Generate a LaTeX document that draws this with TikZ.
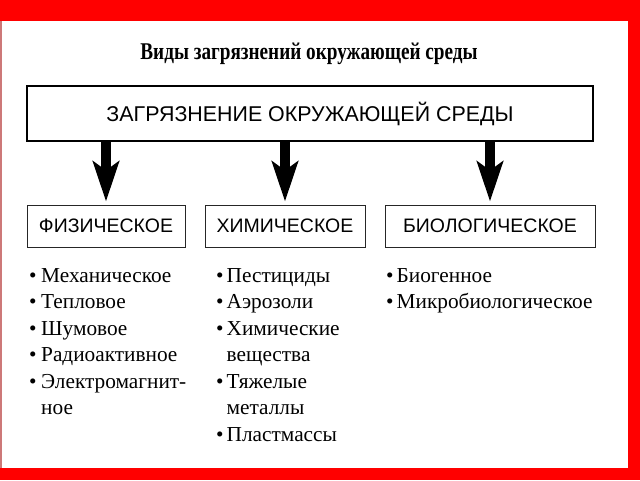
\documentclass[tikz,border=0pt]{standalone}
\usepackage{fontspec}
\setmainfont{Liberation Serif}
\setsansfont{Liberation Sans}
\usetikzlibrary{arrows.meta,positioning}

\definecolor{edgepink}{RGB}{205,120,120}

\tikzset{
  mainbox/.style={draw,line width=2.4pt,minimum width=566pt,minimum height=55pt,inner sep=0pt,
    font=\sffamily\fontsize{21.4}{21.4}\selectfont},
  kindbox/.style={draw=black!85,line width=1pt,minimum height=42pt,inner sep=0pt,
    font=\sffamily\fontsize{19.5}{19.5}\selectfont},
  bigarrow/.style={line width=9.5pt,-{Stealth[length=40pt,width=26pt,inset=9pt]}},
  itemlist/.style={anchor=north west,align=left,inner sep=0pt,
    font=\fontsize{21.3}{26.5}\selectfont},
}

\begin{document}
\begin{tikzpicture}[x=1pt,y=-1pt]
  \useasboundingbox (0,0) rectangle (640,480);

% frame
  \fill[red] (0,0) rectangle (640,480);
  \fill[white] (1.5,21) rectangle (628,468);
  \draw[edgepink,line width=1.5pt] (0.75,21) -- (0.75,468);

% title
  \node (title) at (309,54) {\fontsize{24}{24}\selectfont\bfseries\scalebox{0.8}[1]{Виды загрязнений окружающей среды}};

% main box
  \node[mainbox] (main) at (310,113.5) {ЗАГРЯЗНЕНИЕ ОКРУЖАЮЩЕЙ СРЕДЫ};

% kinds of pollution
  \node[kindbox,minimum width=158pt] (phys) at (106,226) {ФИЗИЧЕСКОЕ};
  \node[kindbox,minimum width=160pt] (chem) at (285,226) {ХИМИЧЕСКОЕ};
  \node[kindbox,minimum width=210pt] (bio) at (490,226) {БИОЛОГИЧЕСКОЕ};

% arrows
  \foreach \k in {phys,chem,bio} {
      \draw[bigarrow] (main.south -| \k.north) -- ([yshift=3pt]\k.north);
  }

% lists
  \node[itemlist] (physlist) at (29,268) {%
    \makebox[12pt][l]{•}Механическое\\
    \makebox[12pt][l]{•}Тепловое\\
    \makebox[12pt][l]{•}Шумовое\\
    \makebox[12pt][l]{•}Радиоактивное\\
    \makebox[12pt][l]{•}Электромагнит-\\
    \hspace*{12pt}ное};
  \node[itemlist] (chemlist) at (216,268) {%
    \makebox[10.5pt][l]{•}Пестициды\\
    \makebox[10.5pt][l]{•}Аэрозоли\\
    \makebox[10.5pt][l]{•}Химические\\
    \hspace*{10.5pt}вещества\\
    \makebox[10.5pt][l]{•}Тяжелые\\
    \hspace*{10.5pt}металлы\\
    \makebox[10.5pt][l]{•}Пластмассы};
  \node[itemlist] (biolist) at (386,268) {%
    \makebox[10.5pt][l]{•}Биогенное\\
    \makebox[10.5pt][l]{•}Микробиологическое};

\end{tikzpicture}
\end{document}
